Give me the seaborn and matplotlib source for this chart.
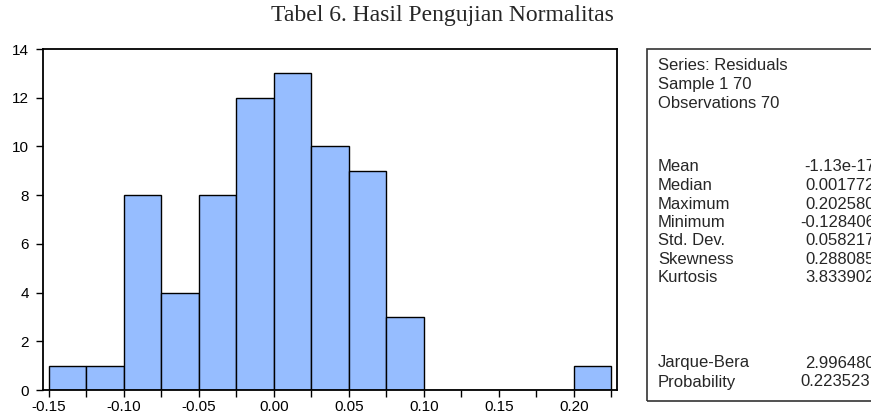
import numpy as np
import pandas as pd
import matplotlib
matplotlib.use('Agg')
import matplotlib.pyplot as plt
import seaborn as sns

# --- Data ---
BIN_EDGES = [-0.150, -0.125, -0.100, -0.075, -0.050, -0.025, 0.000, 0.025,
             0.050, 0.075, 0.100, 0.125, 0.150, 0.175, 0.200, 0.225]
COUNTS = [1, 1, 8, 4, 8, 12, 13, 10, 9, 3, 0, 0, 0, 0, 1]

X_TICKS = [-0.15, -0.10, -0.05, 0.00, 0.05, 0.10, 0.15, 0.20]
X_MINOR = [-0.125, -0.075, -0.025, 0.025, 0.075, 0.125, 0.175, 0.225]
Y_TICKS = [0, 2, 4, 6, 8, 10, 12, 14]

HEADER = ['Series: Residuals', 'Sample 1 70', 'Observations 70']
STAT_NAMES = ['Mean', 'Median', 'Maximum', 'Minimum', 'Std. Dev.', 'Skewness', 'Kurtosis']
STAT_VALUES = ['-1.13e-17', '0.001772', '0.202580', '-0.128406', '0.058217', '0.288085', '3.833902']
TEST_NAMES = ['Jarque-Bera', 'Probability']
TEST_VALUES = ['2.996480', '0.223523']

TITLE = 'Tabel 6. Hasil Pengujian Normalitas'
BAR_COLOR = '#96BDFF'

W, H = 871, 417

sns.set_style('ticks')
plt.rcParams['font.family'] = ['Liberation Sans', 'DejaVu Sans']

fig = plt.figure(figsize=(W / 100, H / 100), dpi=100)
ax = fig.add_axes([43 / W, (H - 390) / H, (617 - 43) / W, (390 - 49) / H])

df = pd.DataFrame({'left': BIN_EDGES[:-1], 'count': COUNTS})
sns.histplot(data=df, x='left', weights='count', bins=BIN_EDGES, ax=ax,
             color=BAR_COLOR, alpha=1, edgecolor='black', linewidth=1)

ax.set_xlim(-0.1538, 0.2288)
ax.set_ylim(0, 14)
ax.set_xticks(X_TICKS)
ax.set_xticklabels([f'{t:.2f}' for t in X_TICKS])
ax.set_xticks(X_MINOR, minor=True)
ax.set_yticks(Y_TICKS)
ax.tick_params(axis='both', which='both', direction='out', length=5, width=1,
               labelsize=11, colors='black')
ax.tick_params(axis='x', which='both', pad=2)
ax.tick_params(axis='y', pad=5)
ax.set_xlabel('')
ax.set_ylabel('')
for sp in ax.spines.values():
    sp.set_visible(True)
    sp.set_linewidth(1.3)
    sp.set_color('black')

fig.text(442 / W, 1 - 15 / H, TITLE, ha='center', va='center',
         family='Liberation Serif', fontsize=17)

# stats panel
box = plt.Rectangle((647 / W, 1 - 401 / H), 240 / W, (401 - 49) / H,
                    transform=fig.transFigure, fill=False, edgecolor='#333333',
                    linewidth=1.2)
fig.add_artist(box)

fs = 12
lx = 658 / W
vx = 875 / W
for i, line in enumerate(HEADER):
    fig.text(lx, 1 - (66 + i * 18.5) / H, line, va='center', fontsize=fs)
for i, (n, v) in enumerate(zip(STAT_NAMES, STAT_VALUES)):
    y = 1 - (167 + i * 18.5) / H
    fig.text(lx, y, n, va='center', fontsize=fs)
    fig.text(vx, y, v, va='center', ha='right', fontsize=fs)
for i, (n, v) in enumerate(zip(TEST_NAMES, TEST_VALUES)):
    y = 1 - (363 + i * 19) / H
    fig.text(lx, y, n, va='center', fontsize=fs)
    fig.text(vx if i == 0 else 870 / W, y, v, va='center', ha='right', fontsize=fs)

fig.savefig('out.png', dpi=100)
